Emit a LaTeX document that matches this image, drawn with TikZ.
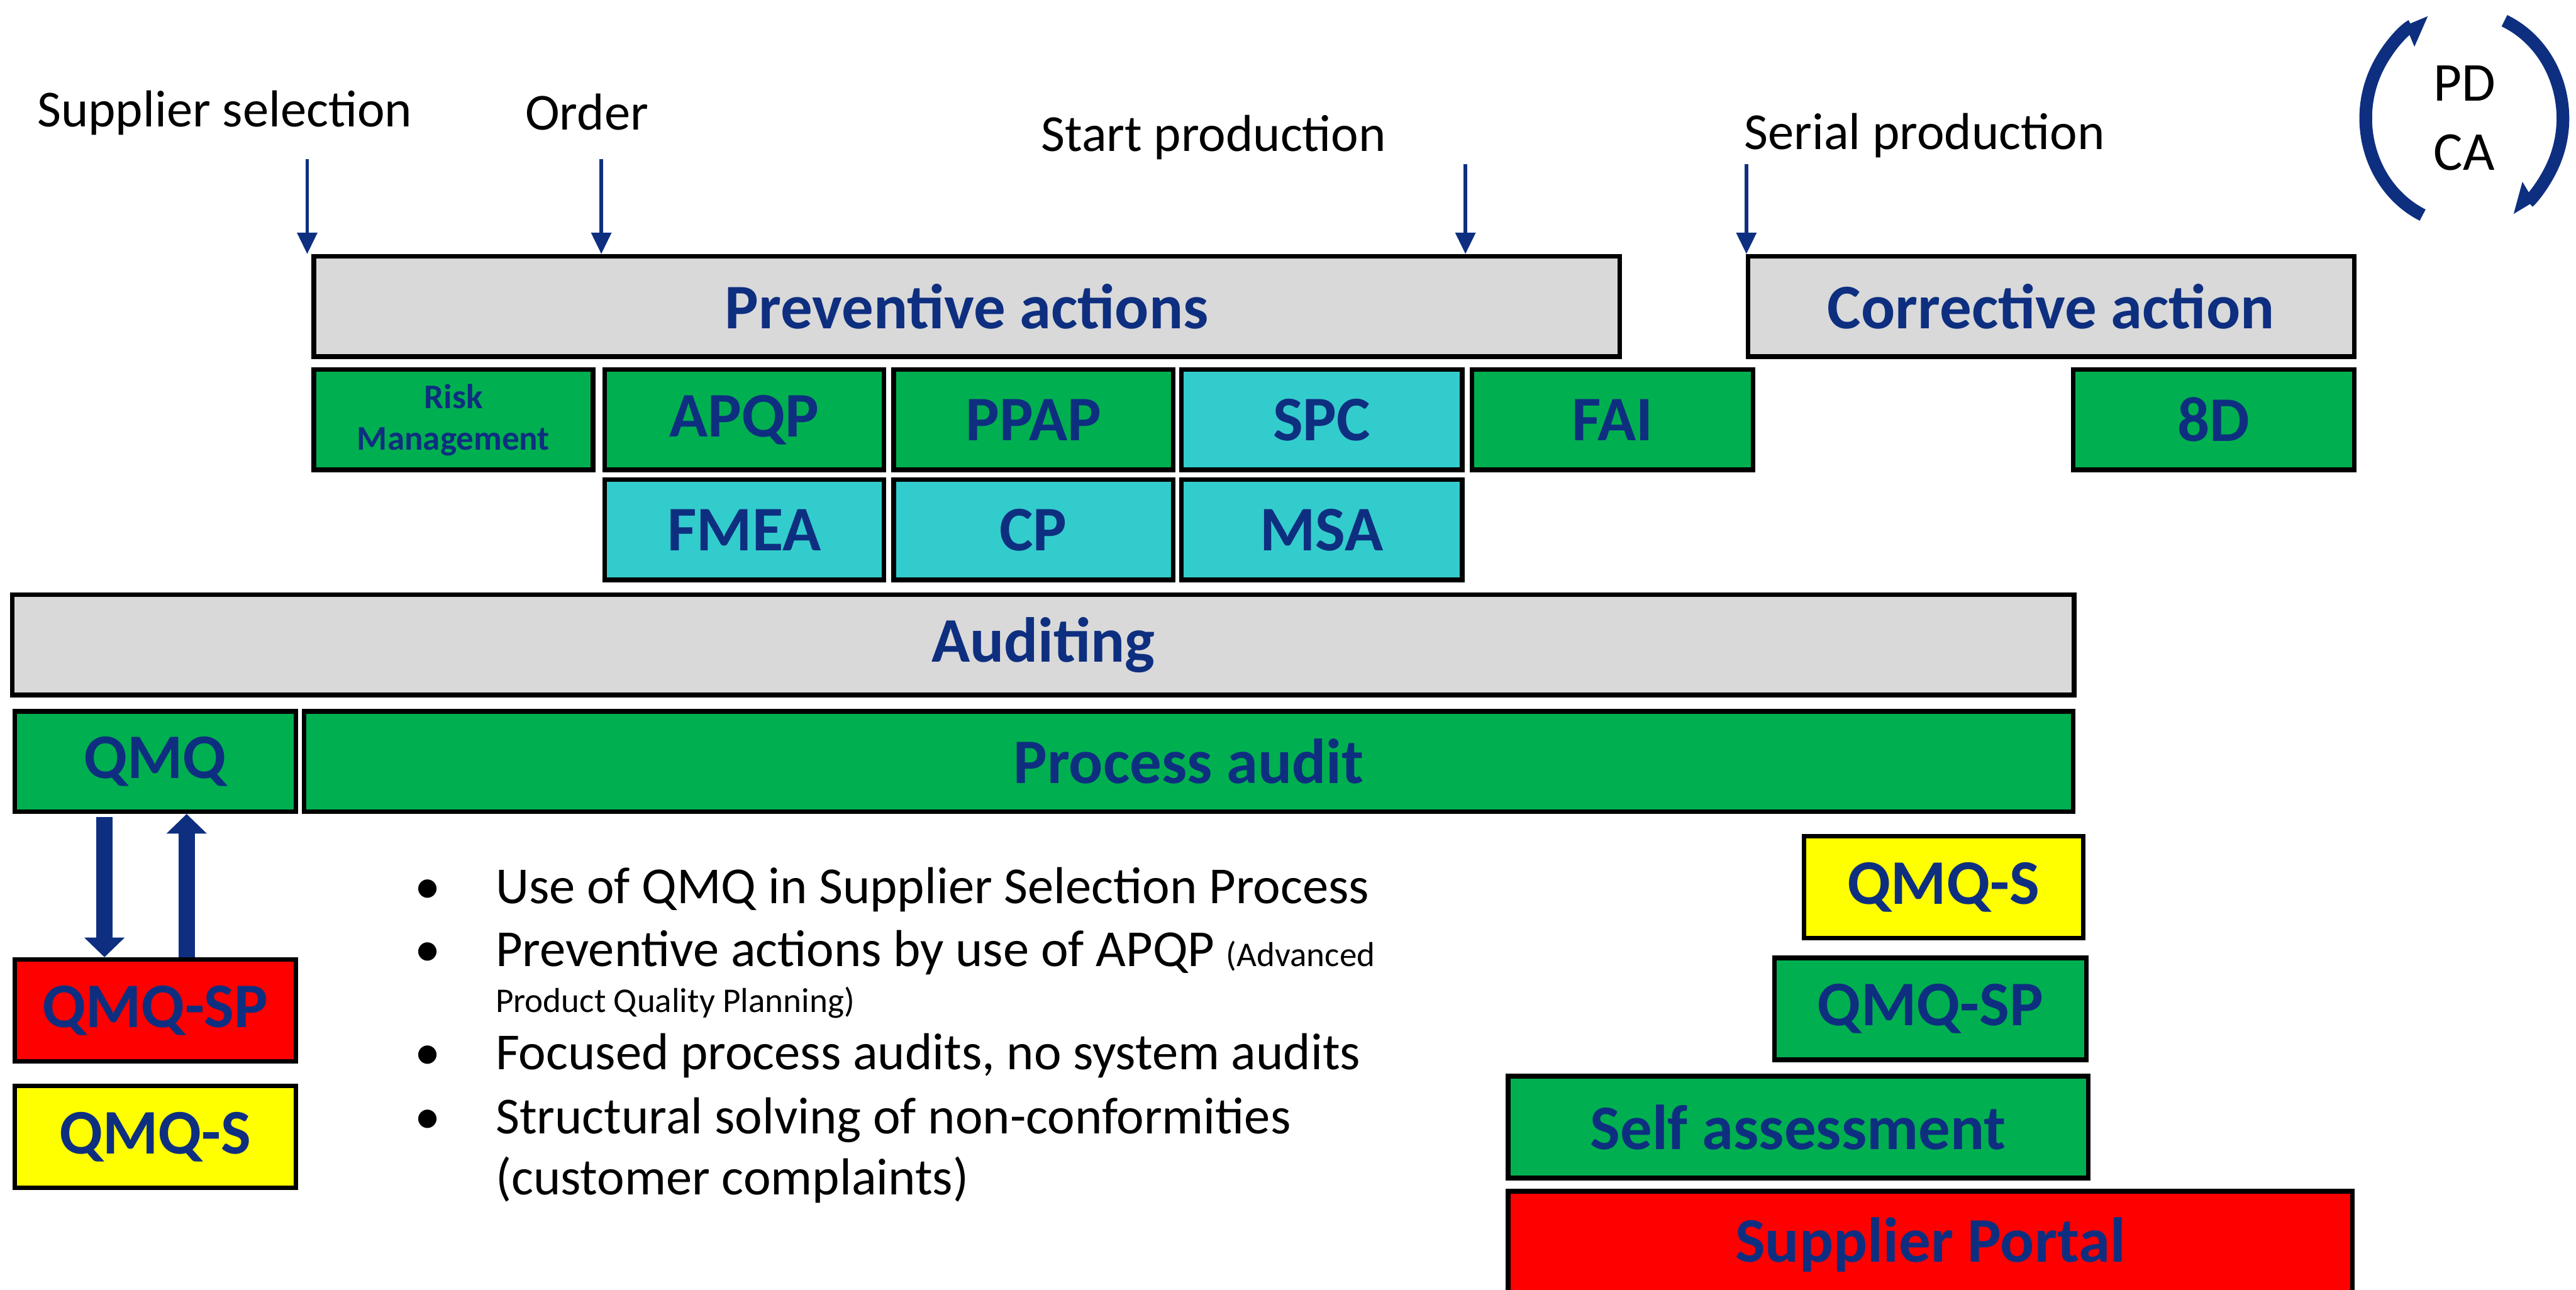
\documentclass[tikz,border=0pt]{standalone}
\usepackage{fontspec}
\setmainfont{Carlito}
\usepackage{tikz}
\usetikzlibrary{arrows.meta,calc,positioning}
\definecolor{qmnavy}{HTML}{0E2F80}
\definecolor{qmgrey}{HTML}{D9D9D9}
\definecolor{qmgreen}{HTML}{00B050}
\definecolor{qmcyan}{HTML}{33CCCC}
\definecolor{qmred}{HTML}{FF0000}
\definecolor{qmyellow}{HTML}{FFFF00}
\tikzset{
  box/.style={draw=black,line width=0.8pt,inner sep=0pt,minimum height=6.1mm,text=qmnavy,
    font=\bfseries\fontsize{11}{13}\selectfont},
  greybox/.style={box,fill=qmgrey},
  greenbox/.style={box,fill=qmgreen},
  cyanbox/.style={box,fill=qmcyan},
  redbox/.style={box,fill=qmred},
  yellowbox/.style={box,fill=qmyellow},
  milestone/.style={anchor=base west,inner sep=0pt,font=\fontsize{9}{11}\selectfont},
  bulletdot/.style={anchor=base,inner sep=0pt,font=\fontsize{9}{11}\selectfont},
  bullettext/.style={anchor=base west,inner sep=0pt,font=\fontsize{9}{11}\selectfont},
  timearrow/.style={-{Triangle[width=1.2mm,length=1.3mm]},line width=0.6pt,qmnavy},
  flowarrow/.style={-{Triangle[width=2.4mm,length=1.2mm]},line width=2.8pt,qmnavy},
  cyclearrow/.style={-{Triangle[right,width=2.4mm,length=1.3mm]},line width=2.2pt,qmnavy}
}
\newcommand{\tinytext}{\fontsize{6}{7.2}\selectfont}

\begin{document}
\begin{tikzpicture}
  \useasboundingbox (0,0) rectangle (15.68,-7.85);
  \clip (0,0) rectangle (15.68,-7.85);
  % milestones on the time line
  \node[milestone] (selection) at (0.22,-0.77) {Supplier selection};
  \node[milestone] (order) at (3.19,-0.79) {Order};
  \node[milestone] (sop) at (6.33,-0.92) {Start production};
  \node[milestone] (serial) at (10.61,-0.91) {Serial production};
  \coordinate (selT) at (1.87,-0.97);
  \coordinate (ordT) at (3.66,-0.97);
  \coordinate (sopT) at (8.92,-1.00);
  \coordinate (serT) at (10.63,-1.00);
  % PDCA cycle
  \node[font=\fontsize{9.5}{12}\selectfont,align=center,inner sep=0pt] (pdca) at (15.0,-0.72) {PD\\CA};
  \draw[cyclearrow] ([shift={(245:0.6cm and 0.65cm)}]pdca.center) arc[start angle=245,end angle=111,x radius=0.6cm,y radius=0.65cm];
  \draw[cyclearrow] ([shift={(66:0.6cm and 0.65cm)}]pdca.center) arc[start angle=66,end angle=-61,x radius=0.6cm,y radius=0.65cm];
  % actions
  \node[greybox,minimum width=7.95cm] (prev) at (5.885,-1.865) {Preventive actions};
  \node[greybox,minimum width=3.69cm] (corr) at (12.485,-1.865) {Corrective action};
  \draw[timearrow] (selT) -- (selT |- prev.north);
  \draw[timearrow] (ordT) -- (ordT |- prev.north);
  \draw[timearrow] (sopT) -- (sopT |- prev.north);
  \draw[timearrow] (serT) -- (serT |- corr.north);
  % methods
  \node[greenbox,minimum width=1.70cm,align=center,font=\bfseries\tinytext] (risk) at (2.76,-2.555) {Risk\\Management};
  \node[greenbox,minimum width=1.70cm] (apqp) at (4.53,-2.555) {APQP};
  \node[greenbox,minimum width=1.70cm] (ppap) at (6.29,-2.555) {PPAP};
  \node[cyanbox,minimum width=1.71cm] (spc) at (8.045,-2.555) {SPC};
  \node[greenbox,minimum width=1.71cm] (fai) at (9.815,-2.555) {FAI};
  \node[greenbox,minimum width=1.71cm] (8d) at (13.475,-2.555) {8D};
  \node[cyanbox,minimum width=1.70cm] (fmea) at (4.53,-3.225) {FMEA};
  \node[cyanbox,minimum width=1.70cm] (cp) at (6.29,-3.225) {CP};
  \node[cyanbox,minimum width=1.71cm] (msa) at (8.045,-3.225) {MSA};
  % auditing
  \node[greybox,minimum width=12.55cm] (audit) at (6.35,-3.925) {Auditing};
  \node[greenbox,minimum width=1.71cm] (qmq) at (0.945,-4.635) {QMQ};
  \node[greenbox,minimum width=10.77cm] (proc) at (7.235,-4.635) {Process audit};
  \node[redbox,minimum width=1.71cm,minimum height=6.2mm] (qmqspL) at (0.945,-6.15) {QMQ-SP};
  \node[yellowbox,minimum width=1.71cm,minimum height=6.2mm] (qmqsL) at (0.945,-6.92) {QMQ-S};
  \draw[flowarrow] ([xshift=5.6mm,yshift=-0.2mm]qmq.south west) -- ([xshift=5.6mm]qmqspL.north west);
  \draw[flowarrow] ([xshift=10.6mm]qmqspL.north west) -- ([xshift=10.6mm]qmq.south west);
  % supplier tools
  \node[yellowbox,minimum width=1.70cm,minimum height=6.2mm] (qmqsR) at (11.83,-5.40) {QMQ-S};
  \node[greenbox,minimum width=1.90cm,minimum height=6.2mm] (qmqspR) at (11.75,-6.14) {QMQ-SP};
  \node[greenbox,minimum width=3.53cm,minimum height=6.2mm] (self) at (10.945,-6.86) {Self assessment};
  \node[redbox,minimum width=5.14cm,minimum height=6.5mm] (portal) at (11.75,-7.575) {Supplier Portal};
  % key points
  \node[bulletdot] (d1) at (2.605,-5.50) {•};
  \node[bullettext] (t1) at (3.01,-5.50) {Use of QMQ in Supplier Selection Process};
  \node[bulletdot] (d2) at (2.605,-5.88) {•};
  \node[bullettext] (t2) at (3.01,-5.88) {Preventive actions by use of APQP {\tinytext(Advanced}};
  \node[bullettext,font=\tinytext] (t2b) at (3.01,-6.16) {Product Quality Planning)};
  \node[bulletdot] (d3) at (2.605,-6.51) {•};
  \node[bullettext] (t3) at (3.01,-6.51) {Focused process audits, no system audits};
  \node[bulletdot] (d4) at (2.605,-6.90) {•};
  \node[bullettext] (t4) at (3.01,-6.90) {Structural solving of non-conformities};
  \node[bullettext] (t4b) at (3.01,-7.27) {(customer complaints)};
\end{tikzpicture}
\end{document}
